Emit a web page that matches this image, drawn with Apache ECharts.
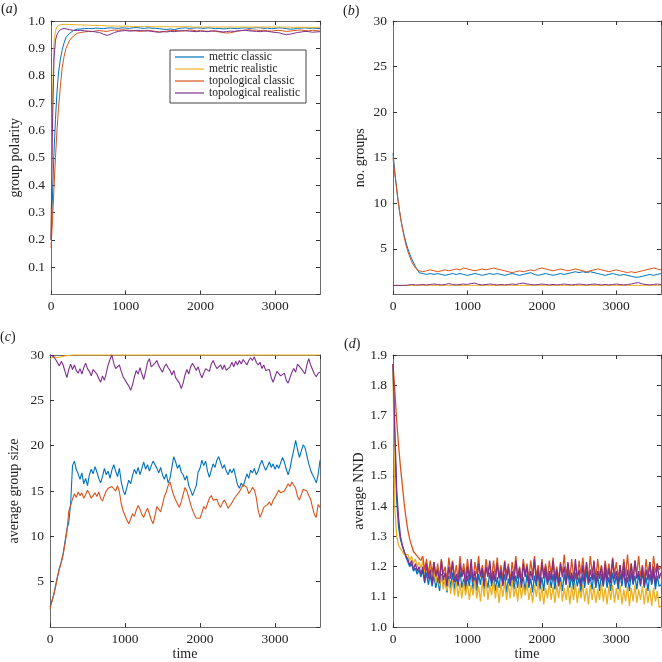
<!DOCTYPE html>
<html><head><meta charset="utf-8">
<script src="https://cdn.jsdelivr.net/npm/echarts@6/dist/echarts.min.js"></script>
<style>html,body{margin:0;padding:0;background:#fff}#c{width:662px;height:662px}</style>
</head><body><div id="c"></div>
<script>
const seriesNames = ['metric classic','metric realistic','topological classic','topological realistic'];
const seriesColors = ['#0072BD','#EDB120','#D95319','#7E2F8E'];
const panelLabels = ['a','b','c','d'];
const yAxisNames = ['group polarity','no. groups','average group size','average NND'];
const xAxisName = 'time';

// time grid for panels (a), (b)
const timeAB = [0,20,40,60,80,100,125,150,175,200,250,300,
350,400,450,500,550,600,650,700,750,800,850,
900,950,1000,1050,1100,1150,1200,1250,1300,1350,1400,
1450,1500,1550,1600,1650,1700,1750,1800,1850,1900,1950,
2000,2050,2100,2150,2200,2250,2300,2350,2400,2450,2500,
2550,2600,2650,2700,2750,2800,2850,2900,2950,3000,3050,
3100,3150,3200,3250,3300,3350,3400,3450,3500,3550,3600];

// time grid for panels (c), (d)
const timeCD = [0,25,50,75,100,125,150,175,
200,225,250,275,300,325,350,375,
400,425,450,475,500,525,550,575,
600,625,650,675,700,725,750,775,
800,825,850,875,900,925,950,975,
1000,1025,1050,1075,1100,1125,1150,1175,
1200,1225,1250,1275,1300,1325,1350,1375,
1400,1425,1450,1475,1500,1525,1550,1575,
1600,1625,1650,1675,1700,1725,1750,1775,
1800,1825,1850,1875,1900,1925,1950,1975,
2000,2025,2050,2075,2100,2125,2150,2175,
2200,2225,2250,2275,2300,2325,2350,2375,
2400,2425,2450,2475,2500,2525,2550,2575,
2600,2625,2650,2675,2700,2725,2750,2775,
2800,2825,2850,2875,2900,2925,2950,2975,
3000,3025,3050,3075,3100,3125,3150,3175,
3200,3225,3250,3275,3300,3325,3350,3375,
3400,3425,3450,3475,3500,3525,3550,3575,
3600];

// (a) group polarity
const polarityMetricClassic = [0.2,0.36,0.52,0.64,0.74,0.81,0.86,0.895,0.92,0.94,0.955,0.965,
0.970,0.971,0.972,0.973,0.972,0.974,0.973,0.972,0.974,0.975,0.974,
0.973,0.975,0.974,0.973,0.975,0.976,0.974,0.973,0.975,0.974,0.973,
0.972,0.970,0.969,0.971,0.968,0.972,0.974,0.975,0.973,0.974,0.975,
0.974,0.973,0.975,0.974,0.972,0.973,0.971,0.972,0.974,0.973,0.972,
0.974,0.975,0.973,0.974,0.976,0.975,0.973,0.974,0.972,0.973,0.975,
0.974,0.972,0.970,0.971,0.973,0.974,0.975,0.973,0.974,0.973,0.972];
const polarityMetricRealistic = [0.2,0.72,0.92,0.965,0.98,0.985,0.987,0.988,0.988,0.988,0.987,0.987,
0.986,0.986,0.985,0.985,0.984,0.984,0.983,0.983,0.982,0.982,0.982,
0.981,0.981,0.981,0.980,0.980,0.980,0.980,0.980,0.980,0.979,0.979,
0.979,0.979,0.979,0.979,0.979,0.979,0.979,0.979,0.979,0.978,0.978,
0.978,0.978,0.978,0.978,0.978,0.978,0.978,0.978,0.978,0.978,0.978,
0.978,0.978,0.978,0.978,0.978,0.978,0.978,0.978,0.978,0.978,0.978,
0.978,0.978,0.977,0.977,0.977,0.977,0.977,0.977,0.977,0.977,0.977];
const polarityTopoClassic = [0.17,0.27,0.39,0.5,0.6,0.68,0.76,0.83,0.87,0.9,0.93,0.945,
0.955,0.958,0.960,0.962,0.961,0.964,0.965,0.963,0.962,0.965,0.967,
0.966,0.968,0.967,0.966,0.965,0.963,0.962,0.965,0.966,0.964,0.962,
0.960,0.961,0.963,0.965,0.966,0.964,0.963,0.965,0.967,0.966,0.964,
0.965,0.963,0.962,0.964,0.962,0.960,0.958,0.956,0.957,0.960,0.963,
0.965,0.967,0.968,0.966,0.967,0.965,0.966,0.964,0.963,0.965,0.966,
0.964,0.962,0.963,0.965,0.966,0.967,0.965,0.964,0.966,0.965,0.963];
const polarityTopoRealistic = [0.2,0.62,0.86,0.93,0.95,0.96,0.968,0.972,0.973,0.972,0.968,0.966,
0.965,0.966,0.964,0.963,0.962,0.960,0.958,0.952,0.947,0.952,0.958,
0.962,0.964,0.965,0.963,0.964,0.966,0.965,0.963,0.964,0.962,0.960,
0.959,0.961,0.960,0.962,0.961,0.963,0.965,0.964,0.963,0.962,0.961,
0.963,0.962,0.961,0.963,0.964,0.962,0.960,0.961,0.963,0.962,0.964,
0.965,0.966,0.964,0.963,0.962,0.961,0.963,0.962,0.960,0.958,0.957,
0.953,0.950,0.952,0.955,0.958,0.960,0.962,0.961,0.959,0.960,0.961];

// (b) number of groups
const groupsMetricClassic = [15.5,13.8,12.3,10.9,9.6,8.5,7.4,6.5,5.7,5.0,3.9,3.1,
2.4,2.3,2.2,2.3,2.2,2.3,2.2,2.1,2.2,2.3,2.2,
2.3,2.2,2.1,2.2,2.3,2.2,2.1,2.2,2.3,2.2,2.3,
2.2,2.1,2.2,2.3,2.2,2.1,2.2,2.3,2.4,2.2,2.1,
2.2,2.3,2.2,2.1,2.2,2.3,2.2,2.3,2.4,2.5,2.4,
2.5,2.4,2.5,2.4,2.3,2.2,2.1,2.2,2.3,2.2,2.1,
2.2,2.1,2.0,1.9,1.9,2.0,2.1,2.2,2.1,2.2,2.3];
const groupsMetricRealistic = [1,1,1,1,1,1,1,1,1,1,1,1,
1,1,1,1,1,1,1,1,1,1,1,
1,1,1,1,1,1,1,1,1,1,1,
1,1,1,1,1,1,1,1,1,1,1,
1,1,1,1,1,1,1,1,1,1,1,
1,1,1,1,1,1,1,1,1,1,1,
1,1,1,1,1,1,1,1,1,1,1];
const groupsTopoClassic = [15.0,13.5,12.2,10.8,9.6,8.5,7.3,6.3,5.4,4.7,3.6,2.9,
2.6,2.5,2.6,2.7,2.6,2.5,2.6,2.7,2.6,2.7,2.8,
2.7,2.9,2.8,2.7,2.6,2.7,2.8,2.7,2.8,2.9,2.8,
2.7,2.6,2.5,2.4,2.5,2.6,2.5,2.6,2.7,2.6,2.8,
2.9,2.8,2.7,2.6,2.7,2.8,2.7,2.6,2.7,2.8,2.7,
2.6,2.5,2.6,2.7,2.8,2.7,2.6,2.5,2.6,2.7,2.6,
2.5,2.4,2.5,2.4,2.5,2.6,2.7,2.8,2.9,2.8,2.7];
const groupsTopoRealistic = [1.0,1.0,1.0,1.05,1.0,1.05,1.0,1.05,1.0,1.05,1.1,1.05,
1.05,1.1,1.05,1.1,1.15,1.1,1.05,1.1,1.2,1.1,1.05,
1.1,1.15,1.1,1.2,1.25,1.1,1.05,1.1,1.15,1.1,1.05,
1.1,1.05,1.1,1.15,1.1,1.2,1.25,1.15,1.1,1.05,1.1,
1.15,1.1,1.05,1.1,1.05,1.1,1.15,1.1,1.05,1.1,1.15,
1.1,1.05,1.1,1.15,1.1,1.05,1.1,1.05,1.1,1.15,1.1,
1.05,1.1,1.15,1.25,1.3,1.15,1.1,1.05,1.1,1.15,1.1];

// (c) average group size
const sizeMetricClassic = [2.2,2.9,3.6,4.6,5.6,6.5,7.2,8.1,
9.4,10.8,11.5,13.6,17.8,18.3,17.4,16.9,
16.3,17.0,15.8,16.4,15.6,16.8,17.4,16.9,
17.7,17.1,16.4,15.9,16.6,17.5,16.8,17.2,
16.4,17.3,17.9,17.2,16.6,17.5,16.0,15.1,
14.6,15.4,16.2,15.8,16.7,17.4,16.9,17.6,
16.8,17.5,18.2,17.4,17.9,17.2,17.8,18.3,
18.1,17.5,17.0,17.6,16.8,16.3,16.9,15.9,
16.4,17.6,18.8,18.2,17.5,17.9,17.1,16.8,
16.2,16.7,15.6,15.1,14.5,14.3,15.6,17.1,
17.5,18.4,17.8,18.3,17.2,16.5,17.3,18.0,
17.6,18.4,18.8,18.1,17.5,17.9,17.2,16.8,
17.4,17.0,17.5,16.6,15.7,15.3,15.9,15.5,
16.2,16.9,16.4,17.3,17.0,17.5,16.8,17.2,
17.9,18.4,17.8,17.3,17.7,18.2,17.6,18.0,
17.4,17.9,17.5,18.1,18.7,18.2,17.4,16.8,
17.5,18.6,19.5,20.6,19.6,18.7,19.4,20.1,
19.8,18.9,18.0,17.3,16.8,16.4,15.9,16.8,
18.4];
const sizeMetricRealistic = [29.6,29.7,29.8,29.8,29.7,29.8,29.8,29.9,
29.9,29.9,29.95,30,30,30,30,30,
30,30,30,30,30,30,30,30,
30,30,30,30,30,30,30,30,
30,30,30,30,30,30,30,30,
30,30,30,30,30,30,30,30,
30,30,30,30,30,30,30,30,
30,30,30,30,30,30,30,30,
30,30,30,30,30,30,30,30,
30,30,30,30,30,30,30,30,
30,30,30,30,30,30,30,30,
30,30,30,30,30,30,30,30,
30,30,30,30,30,30,30,30,
30,30,30,30,30,30,30,30,
30,30,30,30,30,30,30,30,
30,30,30,30,30,30,30,30,
30,30,30,30,30,30,30,30,
30,30,30,30,30,30,30,30,
30];
const sizeTopoClassic = [2.0,2.8,3.5,4.5,5.5,6.4,7.1,8.0,
9.2,10.5,12.8,13.4,14.1,14.7,14.3,14.9,
14.5,14.8,14.2,14.6,15.1,14.7,14.2,14.5,
14.8,14.4,14.9,14.2,13.9,14.5,15.0,15.3,
15.1,15.5,15.4,15.0,15.6,14.9,13.6,12.8,
12.3,11.8,11.4,11.9,12.5,12.2,12.9,13.4,
13.0,12.4,12.1,12.7,13.1,12.5,11.8,11.4,
12.3,13.3,13.0,12.7,13.5,14.4,14.9,15.6,
16.0,15.2,14.5,14.0,13.6,13.2,13.8,14.6,
15.4,15.0,14.3,13.5,12.9,12.4,12.0,12.2,
12.0,12.6,13.3,13.0,13.6,14.2,14.5,14.0,
13.8,14.1,13.5,13.2,13.7,14.0,13.6,13.1,
13.3,13.7,14.1,14.4,14.6,14.9,15.3,15.7,
15.9,15.4,14.7,15.0,15.4,15.1,14.3,12.9,
12.1,12.6,13.2,13.0,13.5,13.8,13.4,14.0,
14.3,14.7,15.1,14.8,14.6,15.0,15.4,15.8,
15.5,16.0,16.2,15.3,14.4,14.0,14.6,15.2,
15.4,15.0,14.5,14.1,13.2,12.4,12.1,13.5,
13.2];
const sizeTopoRealistic = [30.0,29.9,29.8,29.5,29.6,28.8,29.3,28.9,
28.2,27.5,28.4,29.0,28.4,28.9,28.3,28.0,
28.5,27.9,28.6,29.1,28.5,28.2,27.7,28.4,
28.6,27.9,27.4,27.0,27.7,27.2,28.0,28.9,
29.5,30.0,29.1,28.5,28.6,28.9,28.2,27.6,
27.5,26.9,26.6,26.1,26.7,27.6,28.3,27.9,
28.6,27.9,27.3,28.2,29.2,29.6,28.7,28.5,
29.1,29.4,28.8,28.7,28.1,28.7,29.0,28.6,
28.3,27.8,28.3,27.5,27.4,26.9,26.3,26.9,
27.8,28.4,27.9,28.7,29.1,28.7,28.3,28.7,
28.0,27.5,28.0,28.5,28.7,28.2,29.0,29.4,
28.9,28.5,28.3,28.9,28.4,28.9,28.3,28.1,
28.7,29.2,28.7,29.3,28.9,29.4,29.0,29.5,
29.3,28.9,29.4,29.7,29.4,29.8,29.2,28.9,
29.2,28.5,28.9,28.3,28.1,28.4,27.5,27.0,
27.6,28.2,28.3,27.7,27.6,28.0,27.2,26.9,
27.5,28.1,28.5,28.1,29.0,29.1,28.5,28.3,
27.9,28.9,29.6,28.9,28.4,27.9,27.6,28.0,
28.1];

// (d) average nearest-neighbour distance
const nndMetricClassic = [1.87,1.60,1.42,1.33,1.29,1.27,1.25,1.23,
1.215,1.20,1.21,1.185,1.195,1.175,1.19,1.165,
1.19,1.145,1.18,1.14,1.175,1.135,1.17,1.13,
1.165,1.12,1.175,1.135,1.16,1.115,1.17,1.13,
1.18,1.125,1.165,1.135,1.185,1.13,1.16,1.12,
1.17,1.135,1.185,1.125,1.165,1.12,1.175,1.14,
1.185,1.125,1.16,1.13,1.18,1.135,1.17,1.12,
1.165,1.13,1.18,1.14,1.175,1.115,1.16,1.135,
1.18,1.125,1.17,1.13,1.185,1.14,1.165,1.12,
1.175,1.13,1.16,1.115,1.17,1.135,1.18,1.125,
1.165,1.12,1.185,1.14,1.17,1.13,1.175,1.125,
1.18,1.135,1.165,1.12,1.175,1.14,1.185,1.13,
1.17,1.125,1.18,1.135,1.165,1.115,1.175,1.13,
1.185,1.14,1.165,1.125,1.18,1.13,1.17,1.12,
1.175,1.135,1.185,1.13,1.165,1.12,1.18,1.14,
1.17,1.125,1.175,1.135,1.185,1.13,1.165,1.12,
1.18,1.14,1.17,1.125,1.175,1.135,1.185,1.13,
1.165,1.12,1.175,1.14,1.18,1.125,1.17,1.135,
1.14];
const nndMetricRealistic = [1.87,1.39,1.30,1.27,1.26,1.25,1.24,1.235,
1.24,1.22,1.235,1.21,1.225,1.20,1.215,1.195,
1.22,1.175,1.21,1.165,1.20,1.155,1.19,1.145,
1.185,1.135,1.17,1.125,1.165,1.12,1.16,1.11,
1.155,1.105,1.15,1.10,1.145,1.095,1.15,1.105,
1.145,1.09,1.14,1.105,1.155,1.095,1.135,1.085,
1.15,1.10,1.16,1.09,1.14,1.105,1.155,1.095,
1.14,1.08,1.145,1.10,1.15,1.09,1.14,1.095,
1.155,1.10,1.135,1.085,1.15,1.095,1.14,1.105,
1.145,1.09,1.13,1.08,1.14,1.10,1.15,1.085,
1.135,1.075,1.13,1.095,1.145,1.09,1.135,1.08,
1.14,1.095,1.15,1.085,1.13,1.09,1.14,1.075,
1.135,1.09,1.145,1.08,1.13,1.095,1.14,1.085,
1.13,1.075,1.14,1.09,1.135,1.08,1.125,1.09,
1.145,1.085,1.13,1.075,1.135,1.09,1.14,1.08,
1.13,1.09,1.14,1.075,1.125,1.085,1.135,1.07,
1.13,1.085,1.14,1.08,1.125,1.09,1.135,1.075,
1.13,1.08,1.125,1.07,1.13,1.085,1.12,1.065,
1.07];
const nndTopoClassic = [1.87,1.78,1.68,1.60,1.53,1.47,1.41,1.36,
1.32,1.29,1.27,1.25,1.255,1.235,1.24,1.22,
1.235,1.19,1.225,1.175,1.22,1.18,1.215,1.165,
1.21,1.16,1.225,1.175,1.20,1.155,1.23,1.18,
1.22,1.165,1.205,1.155,1.235,1.175,1.21,1.16,
1.225,1.17,1.20,1.15,1.215,1.175,1.235,1.165,
1.205,1.16,1.225,1.18,1.21,1.155,1.22,1.17,
1.23,1.165,1.205,1.16,1.22,1.175,1.21,1.15,
1.215,1.17,1.235,1.165,1.20,1.155,1.225,1.175,
1.21,1.16,1.22,1.17,1.235,1.165,1.205,1.155,
1.225,1.175,1.21,1.16,1.22,1.17,1.23,1.165,
1.20,1.155,1.215,1.175,1.24,1.17,1.21,1.16,
1.225,1.165,1.205,1.155,1.22,1.175,1.23,1.17,
1.21,1.16,1.235,1.175,1.215,1.16,1.225,1.165,
1.205,1.155,1.22,1.17,1.21,1.165,1.23,1.175,
1.215,1.16,1.205,1.155,1.225,1.17,1.24,1.165,
1.21,1.16,1.22,1.175,1.235,1.165,1.205,1.155,
1.225,1.17,1.215,1.16,1.235,1.18,1.21,1.19,
1.20];
const nndTopoRealistic = [1.87,1.65,1.45,1.36,1.30,1.27,1.25,1.235,
1.225,1.205,1.22,1.19,1.21,1.185,1.20,1.175,
1.20,1.15,1.21,1.16,1.19,1.14,1.215,1.17,
1.19,1.145,1.22,1.155,1.18,1.135,1.20,1.16,
1.215,1.15,1.175,1.14,1.21,1.165,1.19,1.135,
1.20,1.155,1.225,1.15,1.185,1.14,1.21,1.17,
1.195,1.135,1.20,1.165,1.22,1.145,1.185,1.15,
1.21,1.16,1.19,1.135,1.215,1.155,1.20,1.14,
1.185,1.15,1.22,1.16,1.195,1.13,1.21,1.165,
1.20,1.14,1.185,1.155,1.225,1.15,1.19,1.135,
1.215,1.16,1.20,1.145,1.185,1.155,1.22,1.15,
1.19,1.135,1.21,1.165,1.20,1.14,1.215,1.155,
1.18,1.15,1.225,1.16,1.19,1.135,1.205,1.15,
1.215,1.145,1.19,1.155,1.22,1.14,1.185,1.16,
1.20,1.135,1.21,1.15,1.195,1.145,1.225,1.16,
1.185,1.14,1.205,1.155,1.215,1.135,1.19,1.15,
1.21,1.145,1.22,1.16,1.185,1.14,1.20,1.135,
1.19,1.155,1.215,1.145,1.20,1.14,1.21,1.16,
1.18];

const FONT = 'Liberation Serif';
const AX = '#6b6b6b';
const TXT = '#222';

const panels = [
  {grid:{left:51, top:21, width:269, height:273.5}, time:timeAB, ymin:0, ymax:1, yint:0.1, dec:1, showMin:false, nameGap:29, lw:1,
   data:[polarityMetricClassic, polarityMetricRealistic, polarityTopoClassic, polarityTopoRealistic], xname:''},
  {grid:{left:393, top:21, width:268, height:273.5}, time:timeAB, ymin:0, ymax:30, yint:5, dec:0, showMin:false, nameGap:26, lw:1,
   data:[groupsMetricClassic, groupsMetricRealistic, groupsTopoClassic, groupsTopoRealistic], xname:''},
  {grid:{left:50, top:355, width:270, height:272.7}, time:timeCD, ymin:0, ymax:30, yint:5, dec:0, showMin:false, nameGap:29, lw:1.1,
   data:[sizeMetricClassic, sizeMetricRealistic, sizeTopoClassic, sizeTopoRealistic], xname:xAxisName},
  {grid:{left:393, top:355, width:268, height:272.7}, time:timeCD, ymin:1.0, ymax:1.9, yint:0.1, dec:1, showMin:true, nameGap:27, lw:1.3,
   data:[nndMetricClassic, nndMetricRealistic, nndTopoClassic, nndTopoRealistic], xname:xAxisName}
];

const grids = [], xAxes = [], yAxes = [], series = [];
panels.forEach((p, g) => {
  grids.push(Object.assign({containLabel:false}, p.grid));
  const lab = {fontFamily:FONT, fontSize:13.5, color:TXT};
  xAxes.push({type:'value', gridIndex:g, position:'bottom', min:0, max:3600, interval:1000,
    axisLine:{show:true, onZero:false, lineStyle:{color:AX, width:1}},
    axisTick:{show:true, inside:true, length:4, lineStyle:{color:'#333'}},
    axisLabel:Object.assign({margin:5, showMaxLabel:false, showMinLabel:true, formatter:v => String(Math.round(v))}, lab),
    splitLine:{show:false},
    name:p.xname, nameLocation:'middle', nameGap:18,
    nameTextStyle:{fontFamily:FONT, fontSize:14, color:TXT}});
  xAxes.push({type:'value', gridIndex:g, position:'top', min:0, max:3600, interval:1000,
    axisLine:{show:true, onZero:false, lineStyle:{color:AX, width:1}},
    axisTick:{show:true, inside:true, length:4, lineStyle:{color:'#333'}},
    axisLabel:{show:false}, splitLine:{show:false}});
  yAxes.push({type:'value', gridIndex:g, position:'left', min:p.ymin, max:p.ymax, interval:p.yint,
    axisLine:{show:true, onZero:false, lineStyle:{color:AX, width:1}},
    axisTick:{show:true, inside:true, length:4, lineStyle:{color:'#333'}},
    axisLabel:Object.assign({margin:6, showMinLabel:p.showMin, formatter:v => Number(v).toFixed(p.dec)}, lab),
    splitLine:{show:false},
    name:yAxisNames[g], nameLocation:'middle', nameGap:p.nameGap,
    nameTextStyle:{fontFamily:FONT, fontSize:14, color:TXT}});
  yAxes.push({type:'value', gridIndex:g, position:'right', min:p.ymin, max:p.ymax, interval:p.yint,
    axisLine:{show:true, onZero:false, lineStyle:{color:AX, width:1}},
    axisTick:{show:true, inside:true, length:4, lineStyle:{color:'#333'}},
    axisLabel:{show:false}, splitLine:{show:false}});
  p.data.forEach((vals, k) => {
    series.push({type:'line', name:seriesNames[k], xAxisIndex:2*g, yAxisIndex:2*g,
      data:p.time.map((t, i) => [t, vals[i]]), symbol:'none', showSymbol:false,
      clip:false, animation:false, color:seriesColors[k],
      lineStyle:{width:p.lw, color:seriesColors[k]}});
  });
});

const labelPos = [[1,2],[343,4],[0,330],[344,337]];
const graphic = panelLabels.map((l, i) => ({type:'text', left:labelPos[i][0], top:labelPos[i][1],
  style:{text:'{n|(}{i|' + l + '}{n|)}', rich:{n:{fontFamily:FONT, fontSize:14, fill:TXT}, i:{fontFamily:FONT, fontSize:14, fontStyle:'italic', fill:TXT}}}}));

const chart = echarts.init(document.getElementById('c'), null, {renderer:'canvas'});
chart.setOption({
  animation:false,
  backgroundColor:'#fff',
  grid:grids, xAxis:xAxes, yAxis:yAxes, series:series, graphic:graphic,
  legend:{data:seriesNames, orient:'vertical', left:170, top:50, selectedMode:false,
    icon:'rect', padding:[1,6,4,5], itemGap:0, itemWidth:29, itemHeight:1.2,
    borderColor:'#444', borderWidth:1, backgroundColor:'#fff',
    textStyle:{fontFamily:FONT, fontSize:11.5, color:TXT, lineHeight:11.7}}
});
</script></body></html>
